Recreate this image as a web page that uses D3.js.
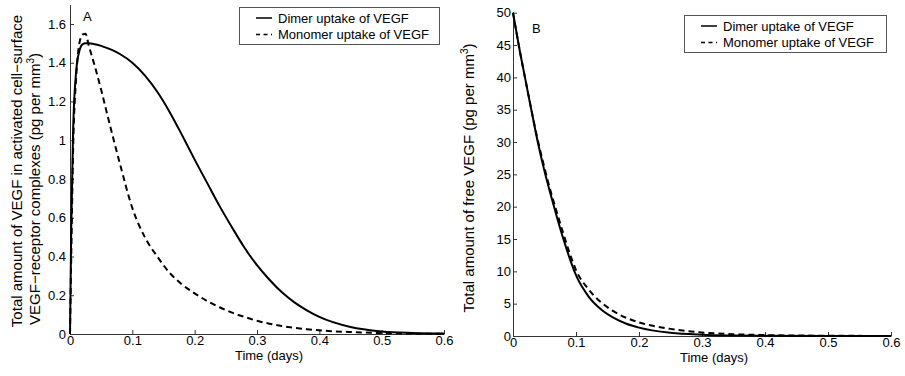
<!DOCTYPE html>
<html>
<head>
<meta charset="utf-8">
<script src="https://cdn.jsdelivr.net/npm/d3@7"></script>
<style>
  html, body { margin: 0; padding: 0; background: #fff; }
  svg { display: block; font-family: "Liberation Sans", Arial, Helvetica, sans-serif; }
</style>
</head>
<body>
<svg id="chart" width="905" height="376"></svg>
<script>
// Panel A: VEGF bound in activated cell-surface VEGF-receptor complexes
const timeA = [0, 0.002, 0.005, 0.01, 0.015, 0.02, 0.025, 0.03, 0.04, 0.05, 0.06, 0.08, 0.1, 0.12, 0.14, 0.16, 0.18, 0.2, 0.22, 0.24, 0.26, 0.28, 0.3, 0.32, 0.34, 0.36, 0.38, 0.4, 0.45, 0.5, 0.55, 0.6];
const dimerA = [0, 0.55, 1.05, 1.36, 1.46, 1.495, 1.5, 1.5, 1.495, 1.487, 1.475, 1.445, 1.4, 1.335, 1.25, 1.145, 1.025, 0.9, 0.78, 0.66, 0.55, 0.445, 0.355, 0.28, 0.215, 0.163, 0.122, 0.088, 0.036, 0.013, 0.005, 0.002];
const monomerA = [0, 0.4, 0.95, 1.33, 1.5, 1.545, 1.55, 1.49, 1.38, 1.26, 1.13, 0.88, 0.65, 0.5, 0.4, 0.315, 0.255, 0.21, 0.17, 0.138, 0.11, 0.088, 0.068, 0.053, 0.041, 0.032, 0.025, 0.019, 0.01, 0.005, 0.002, 0.001];

// Panel B: free VEGF
const timeB = [0, 0.01, 0.02, 0.03, 0.04, 0.05, 0.06, 0.07, 0.08, 0.09, 0.1, 0.12, 0.14, 0.16, 0.18, 0.2, 0.25, 0.3, 0.35, 0.4, 0.5, 0.6];
const dimerB = [50, 44.5, 39.5, 34.5, 29.7, 25.5, 21.8, 18.3, 15, 12, 9.4, 6.1, 4.1, 2.8, 1.9, 1.3, 0.5, 0.2, 0.08, 0.03, 0.005, 0];
const monomerB = [50, 44.5, 39.5, 34.6, 30, 26, 22.3, 19, 15.8, 12.8, 10.2, 7.2, 5.2, 3.8, 2.8, 2.1, 1.1, 0.55, 0.28, 0.14, 0.04, 0.01];

const xTicks = [0, 0.1, 0.2, 0.3, 0.4, 0.5, 0.6];
const yTicksA = [0, 0.2, 0.4, 0.6, 0.8, 1, 1.2, 1.4, 1.6];
const yTicksB = [0, 5, 10, 15, 20, 25, 30, 35, 40, 45, 50];
const seriesNames = ["Dimer uptake of VEGF", "Monomer uptake of VEGF"];

const svg = d3.select("#chart");
const fmt = d => String(+d.toFixed(2));
const DASH = "6,4";

function panel(opts) {
  const x = d3.scaleLinear().domain([0, 0.6]).range(opts.xRange);
  const y = d3.scaleLinear().domain(opts.yDomain).range(opts.yRange);
  const g = svg.append("g");

  const xAxis = g.append("g")
    .attr("transform", `translate(0,${opts.yRange[0]})`)
    .call(d3.axisBottom(x).tickValues(xTicks).tickFormat(fmt)
      .tickSizeInner(-4).tickSizeOuter(0).tickPadding(2));
  const yAxis = g.append("g")
    .attr("transform", `translate(${opts.xRange[0]},0)`)
    .call(d3.axisLeft(y).tickValues(opts.yTicks).tickFormat(fmt)
      .tickSizeInner(-4).tickSizeOuter(0).tickPadding(opts.yPad));
  [xAxis, yAxis].forEach(a => {
    a.selectAll("path, line").attr("stroke", "#333").attr("stroke-width", 1);
    a.selectAll("text").attr("font-size", 13).attr("fill", "#000")
      .attr("font-family", "Liberation Sans, Arial, sans-serif");
  });

  const line = d3.line().x(d => x(d[0])).y(d => y(d[1])).curve(d3.curveMonotoneX);
  g.append("path")
    .attr("d", line(opts.time.map((t, i) => [t, opts.monomer[i]])))
    .attr("fill", "none").attr("stroke", "#000").attr("stroke-width", 2)
    .attr("stroke-dasharray", DASH);
  g.append("path")
    .attr("d", line(opts.time.map((t, i) => [t, opts.dimer[i]])))
    .attr("fill", "none").attr("stroke", "#000").attr("stroke-width", 2);

  // panel letter
  g.append("text").attr("x", opts.letterPos[0]).attr("y", opts.letterPos[1])
    .attr("font-size", 13).text(opts.letter);

  // x axis title
  g.append("text")
    .attr("x", (opts.xRange[0] + opts.xRange[1]) / 2 + 12)
    .attr("y", opts.yRange[0] + 26).attr("text-anchor", "middle").attr("font-size", 13)
    .text("Time (days)");

  // legend
  const lg = g.append("g").attr("transform", `translate(${opts.legend[0]},${opts.legend[1]})`);
  lg.append("rect").attr("x", 0.5).attr("y", 0.5)
    .attr("width", opts.legend[2]).attr("height", 37)
    .attr("fill", "#fff").attr("stroke", "#555").attr("stroke-width", 1);
  seriesNames.forEach((name, i) => {
    const cy = 11 + i * 16.5;
    lg.append("line").attr("x1", 17).attr("x2", 33).attr("y1", cy).attr("y2", cy)
      .attr("stroke", "#000").attr("stroke-width", 1.5)
      .attr("stroke-dasharray", i === 0 ? null : "4,3.5");
    lg.append("text").attr("x", 39).attr("y", cy + 4.5).attr("font-size", 13).text(name);
  });
  return g;
}

panel({
  xRange: [70, 444], yDomain: [0, 1.7], yRange: [334, 4.6], yTicks: yTicksA, yPad: 4,
  time: timeA, dimer: dimerA, monomer: monomerA,
  letter: "A", letterPos: [83, 21], legend: [239, 7, 200]
});
panel({
  xRange: [513, 891], yDomain: [0, 50], yRange: [336, 12.7], yTicks: yTicksB, yPad: 2,
  time: timeB, dimer: dimerB, monomer: monomerB,
  letter: "B", letterPos: [532, 33], legend: [684, 15, 202]
});

// y axis titles
function yTitle(xc, yc, parts) {
  const t = svg.append("text")
    .attr("transform", `translate(${xc},${yc}) rotate(-90)`)
    .attr("text-anchor", "middle").attr("font-size", 15);
  parts.forEach(p => {
    const s = t.append("tspan").text(p.text);
    if (p.sup) s.attr("font-size", 10).attr("dy", -6);
    if (p.after) s.attr("dy", 6);
  });
}
yTitle(22, 171, [{ text: "Total amount of VEGF in activated cell\u2212surface" }]);
yTitle(40, 189, [{ text: "VEGF\u2212receptor complexes (pg per mm" }, { text: "3", sup: true }, { text: ")", after: true }]);
yTitle(474, 178, [{ text: "Total amount of free VEGF (pg per mm" }, { text: "3", sup: true }, { text: ")", after: true }]);
</script>
</body>
</html>
